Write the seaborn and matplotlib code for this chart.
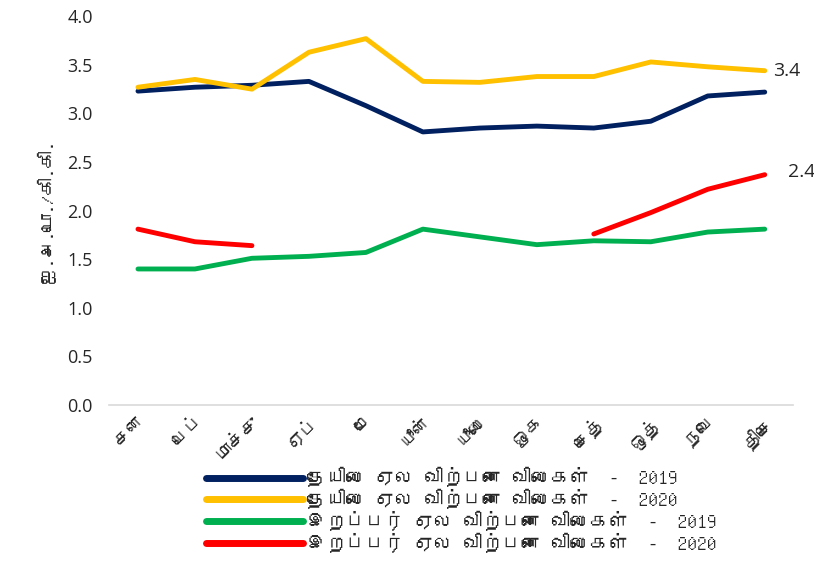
import numpy as np
import pandas as pd
import matplotlib
matplotlib.use("Agg")
import matplotlib.pyplot as plt
import seaborn as sns
from matplotlib import font_manager
from fontTools.ttLib import TTFont

months = ["சன", "பெப்", "மாச்சு", "ஏப்", "மே", "யூன்", "யூலை", "ஓக", "செத்", "ஒத்", "நவெ", "திசெ"]
tea_2019 = [3.23, 3.27, 3.29, 3.33, 3.08, 2.81, 2.85, 2.87, 2.85, 2.92, 3.18, 3.22]
tea_2020 = [3.27, 3.35, 3.25, 3.63, 3.77, 3.33, 3.32, 3.38, 3.38, 3.53, 3.48, 3.44]
rubber_2019 = [1.40, 1.40, 1.51, 1.53, 1.57, 1.81, 1.73, 1.65, 1.69, 1.68, 1.78, 1.81]
rubber_2020 = [1.81, 1.68, 1.64, np.nan, np.nan, np.nan, np.nan, np.nan, 1.76, 1.98, 2.22, 2.37]

series_names = [
    "தேயிலை ஏல விற்பனை விலைகள்  -  2019",
    "தேயிலை ஏல விற்பனை விலைகள்  -  2020",
    "இறப்பர் ஏல விற்பனை விலைகள்  -  2019",
    "இறப்பர் ஏல விற்பனை விலைகள்  -  2020",
]
colors = ["#002060", "#FFC000", "#00B050", "#FF0000"]
y_label = "ஐ.அ.டொ./கி.கி."


def find_tamil_font():
    # cherche une police installée qui contient les glyphes tamouls
    for f in font_manager.fontManager.ttflist:
        try:
            tt = TTFont(f.fname, fontNumber=0, lazy=True)
            cmap = tt.getBestCmap()
            if cmap and 0x0BA4 in cmap and 0x0BC8 in cmap:
                return f.name
        except Exception:
            continue
    return None


sns.set_style("white")
tamil = find_tamil_font()
families = ([tamil] if tamil else []) + ["DejaVu Sans"]
plt.rcParams["font.family"] = families

df = pd.DataFrame({
    "month": months * 4,
    "idx": list(range(12)) * 4,
    "value": tea_2019 + tea_2020 + rubber_2019 + rubber_2020,
    "series": sum([[n] * 12 for n in series_names], []),
})
# segments continus (la série 2020 du caoutchouc a un trou)
df["seg"] = df.groupby("series")["value"].transform(lambda v: v.isna().cumsum())
df = df.dropna(subset=["value"])

fig = plt.figure(figsize=(8.14, 5.61), dpi=100)
ax = fig.add_axes([0.1345, 0.278, 0.840, 0.693])

for name, col in zip(series_names, colors):
    sub = df[df["series"] == name]
    for i, (_, part) in enumerate(sub.groupby("seg")):
        sns.lineplot(data=part, x="idx", y="value", color=col, linewidth=3.5,
                     label=name if i == 0 else None, ax=ax,
                     solid_capstyle="round", estimator=None)

ax.set_xlim(-0.5, 11.5)
ax.set_ylim(0, 4.0)
ax.set_yticks(np.arange(0, 4.01, 0.5))
ax.set_yticklabels([f"{v:.1f}" for v in np.arange(0, 4.01, 0.5)],
                   fontsize=13, family=["Open Sans"])
ax.set_xticks(range(12))
ax.set_xticklabels(months, rotation=45, ha="right", rotation_mode="anchor", fontsize=13)
ax.tick_params(axis="x", length=0, pad=6)
ax.tick_params(axis="y", length=0, pad=12)
ax.set_xlabel("")
ax.set_ylabel(y_label, fontsize=13, labelpad=8)

for s in ["top", "right", "left"]:
    ax.spines[s].set_visible(False)
ax.spines["bottom"].set_color("#D9D9D9")
ax.spines["bottom"].set_linewidth(1.2)

ax.text(11.15, tea_2020[-1], f"{tea_2020[-1]:.1f}", fontsize=14, va="center",
        family=["Open Sans"])
ax.text(11.4, rubber_2020[-1] + 0.03, f"{rubber_2020[-1]:.1f}", fontsize=14, va="center",
        family=["Open Sans"])

leg = ax.legend(loc="upper left", bbox_to_anchor=(0.13, -0.14), frameon=False,
                fontsize=14, handlelength=5, handletextpad=0.2, labelspacing=0.08,
                borderaxespad=0)
for line in leg.get_lines():
    line.set_linewidth(5)

fig.savefig("out.png", dpi=100)
